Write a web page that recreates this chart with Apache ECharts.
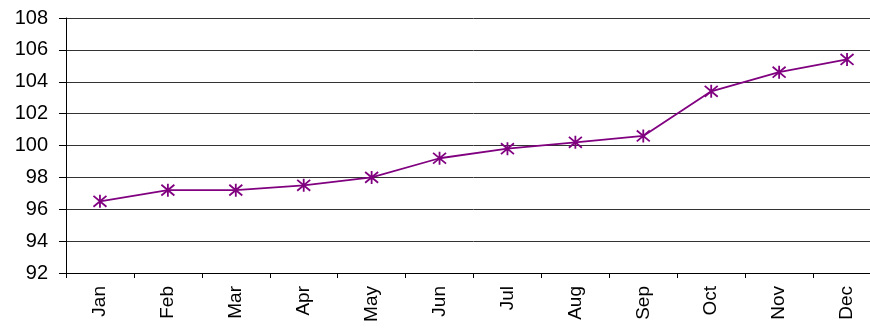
<!DOCTYPE html>
<html>
<head>
<meta charset="utf-8">
<script src="https://cdn.jsdelivr.net/npm/echarts@6/dist/echarts.min.js"></script>
<style>
  html, body { margin: 0; padding: 0; background: #fff; overflow: hidden; }
  /* the canvas is a little wider than the window, so the last band is cut at the edge */
  #chart { width: 881px; height: 332px; }
</style>
</head>
<body>
<div id="chart"></div>
<script>
// Monthly index values
const months = ['Jan', 'Feb', 'Mar', 'Apr', 'May', 'Jun', 'Jul', 'Aug', 'Sep', 'Oct', 'Nov', 'Dec'];
const indexValues = [96.5, 97.2, 97.2, 97.5, 98.0, 99.2, 99.8, 100.2, 100.6, 103.4, 104.6, 105.4];
const yTicks = [92, 94, 96, 98, 100, 102, 104, 106, 108];

// Asterisk marker: an X crossed by a vertical stroke
const asterisk = 'path://M0 0 L10 10 M10 0 L0 10 M5 -1 L5 11';

const chart = echarts.init(document.getElementById('chart'));
chart.setOption({
  animation: false,
  grid: { left: 66, right: 0, top: 18, bottom: 59, containLabel: false },
  xAxis: {
    type: 'category',
    data: months,
    boundaryGap: true,
    axisLine: { lineStyle: { color: '#000', width: 1 } },
    axisTick: { show: true, length: 5, inside: false, lineStyle: { color: '#000' } },
    axisLabel: {
      rotate: 90, margin: 13, color: '#000',
      fontFamily: 'Liberation Sans, Arial, sans-serif', fontSize: 19
    },
    splitLine: { show: false }
  },
  yAxis: {
    type: 'value',
    min: yTicks[0],
    max: yTicks[yTicks.length - 1],
    interval: 2,
    axisLine: { show: true, lineStyle: { color: '#000', width: 1 } },
    axisTick: { show: true, length: 7, inside: false, lineStyle: { color: '#000' } },
    axisLabel: {
      margin: 18, color: '#000',
      fontFamily: 'Liberation Sans, Arial, sans-serif', fontSize: 20
    },
    splitLine: { show: true, lineStyle: { color: '#333', width: 1 } }
  },
  series: [{
    type: 'line',
    data: indexValues,
    symbol: asterisk,
    symbolSize: 13,
    showAllSymbol: true,
    lineStyle: { color: '#800080', width: 1.8 },
    itemStyle: { color: 'none', borderColor: '#800080', borderWidth: 1.8 },
    emphasis: { disabled: true }
  }]
});
</script>
</body>
</html>
